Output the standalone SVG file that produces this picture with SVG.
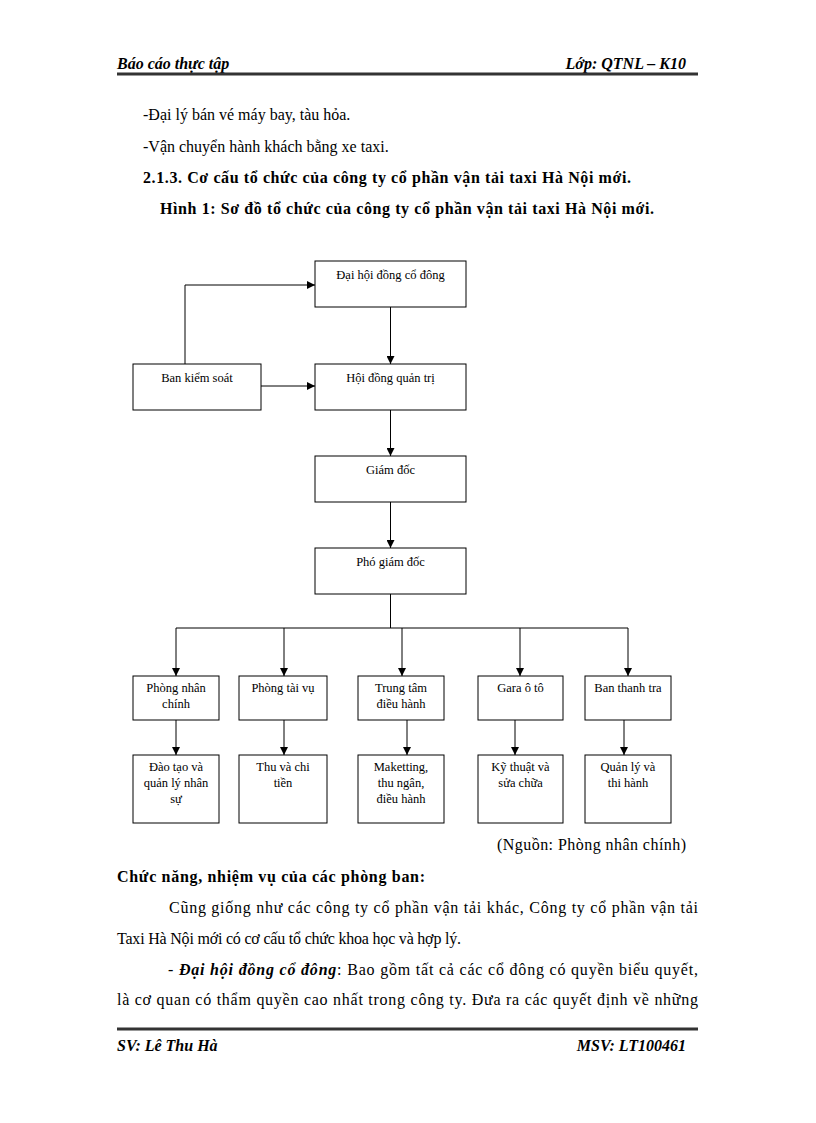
<svg xmlns="http://www.w3.org/2000/svg" width="816" height="1123" viewBox="0 0 816 1123">
<style>
text{font-family:"Liberation Serif","Times New Roman",serif;fill:#000}
.b{font-size:16px}
.bd{font-size:16px;font-weight:bold}
.hd{font-size:16px;font-weight:bold;font-style:italic}
.n{font-size:12.5px;text-anchor:middle}
.box{fill:#fff;stroke:#000;stroke-width:1}
.c{fill:none;stroke:#000;stroke-width:1}
.rule{stroke:#333;stroke-width:3}
</style>
<defs>
<marker id="ah" viewBox="0 0 10 10" refX="10" refY="5" markerWidth="8" markerHeight="8" markerUnits="userSpaceOnUse" orient="auto">
<path d="M0,0 L10,5 L0,10 z" fill="#000"/>
</marker>
</defs>
<rect width="816" height="1123" fill="#fff"/>

<g id="header">
<text class="hd" x="117" y="69">Báo cáo thực tập</text>
<text class="hd" x="686" y="69" text-anchor="end">Lớp: QTNL – K10</text>
<line class="rule" x1="117" y1="74" x2="698" y2="74"/>
</g>

<g id="body-top">
<text class="b" x="143" y="120">-Đại lý bán vé máy bay, tàu hỏa.</text>
<text class="b" x="143" y="152">-Vận chuyển hành khách bằng xe taxi.</text>
<text class="bd" x="143" y="183" textLength="488" lengthAdjust="spacing">2.1.3. Cơ cấu tổ chức của công ty cổ phần vận tải taxi Hà Nội mới.</text>
<text class="bd" x="160" y="214" textLength="494" lengthAdjust="spacing">Hình 1: Sơ đồ tổ chức của công ty cổ phần vận tải taxi Hà Nội mới.</text>
</g>

<g id="connectors">
<line class="c" x1="390.5" y1="307" x2="390.5" y2="364" marker-end="url(#ah)"/>
<polyline class="c" points="185,364 185,285 315,285" marker-end="url(#ah)"/>
<line class="c" x1="261" y1="386" x2="315" y2="386" marker-end="url(#ah)"/>
<line class="c" x1="390.5" y1="410" x2="390.5" y2="456" marker-end="url(#ah)"/>
<line class="c" x1="390.5" y1="502" x2="390.5" y2="548" marker-end="url(#ah)"/>
<line class="c" x1="390.5" y1="594" x2="390.5" y2="628"/>
<line class="c" x1="176" y1="628" x2="628" y2="628"/>
<line class="c" x1="176" y1="628" x2="176" y2="676" marker-end="url(#ah)"/>
<line class="c" x1="284" y1="628" x2="284" y2="676" marker-end="url(#ah)"/>
<line class="c" x1="402" y1="628" x2="402" y2="676" marker-end="url(#ah)"/>
<line class="c" x1="520" y1="628" x2="520" y2="676" marker-end="url(#ah)"/>
<line class="c" x1="628" y1="628" x2="628" y2="676" marker-end="url(#ah)"/>
<line class="c" x1="176" y1="720" x2="176" y2="755" marker-end="url(#ah)"/>
<line class="c" x1="284" y1="720" x2="284" y2="755" marker-end="url(#ah)"/>
<line class="c" x1="407" y1="720" x2="407" y2="755" marker-end="url(#ah)"/>
<line class="c" x1="515" y1="720" x2="515" y2="755" marker-end="url(#ah)"/>
<line class="c" x1="624" y1="720" x2="624" y2="755" marker-end="url(#ah)"/>
</g>

<g id="dhdcd">
<rect class="box" x="315" y="261" width="151" height="46"/>
<text class="n" x="390.5" y="279">Đại hội đồng cổ đông</text>
</g>
<g id="bks">
<rect class="box" x="133" y="364" width="128" height="46"/>
<text class="n" x="197" y="382">Ban kiểm soát</text>
</g>
<g id="hdqt">
<rect class="box" x="315" y="364" width="151" height="46"/>
<text class="n" x="390.5" y="382">Hội đồng quản trị</text>
</g>
<g id="gd">
<rect class="box" x="315" y="456" width="151" height="46"/>
<text class="n" x="390.5" y="474">Giám đốc</text>
</g>
<g id="pgd">
<rect class="box" x="315" y="548" width="151" height="46"/>
<text class="n" x="390.5" y="566">Phó giám đốc</text>
</g>

<g id="pnc">
<rect class="box" x="133" y="676" width="86" height="44"/>
<text class="n" x="176" y="692">Phòng nhân</text>
<text class="n" x="176" y="708">chính</text>
</g>
<g id="ptv">
<rect class="box" x="239" y="676" width="88" height="44"/>
<text class="n" x="283" y="692">Phòng tài vụ</text>
</g>
<g id="ttdh">
<rect class="box" x="358" y="676" width="86" height="44"/>
<text class="n" x="401" y="692">Trung tâm</text>
<text class="n" x="401" y="708">điều hành</text>
</g>
<g id="gara">
<rect class="box" x="478" y="676" width="85" height="44"/>
<text class="n" x="520.5" y="692">Gara ô tô</text>
</g>
<g id="btt">
<rect class="box" x="585" y="676" width="86" height="44"/>
<text class="n" x="628" y="692">Ban thanh tra</text>
</g>

<g id="dtql">
<rect class="box" x="133" y="755" width="86" height="68"/>
<text class="n" x="176" y="771">Đào tạo và</text>
<text class="n" x="176" y="787">quản lý nhân</text>
<text class="n" x="176" y="803">sự</text>
</g>
<g id="thuchi">
<rect class="box" x="239" y="755" width="88" height="68"/>
<text class="n" x="283" y="771">Thu và chi</text>
<text class="n" x="283" y="787">tiền</text>
</g>
<g id="mkt">
<rect class="box" x="358" y="755" width="86" height="68"/>
<text class="n" x="401" y="771">Maketting,</text>
<text class="n" x="401" y="787">thu ngân,</text>
<text class="n" x="401" y="803">điều hành</text>
</g>
<g id="ktsc">
<rect class="box" x="478" y="755" width="85" height="68"/>
<text class="n" x="520.5" y="771">Kỹ thuật và</text>
<text class="n" x="520.5" y="787">sửa chữa</text>
</g>
<g id="qlth">
<rect class="box" x="585" y="755" width="86" height="68"/>
<text class="n" x="628" y="771">Quản lý và</text>
<text class="n" x="628" y="787">thi hành</text>
</g>

<g id="body-bottom">
<text class="b" x="497" y="850" textLength="189" lengthAdjust="spacing">(Nguồn: Phòng nhân chính)</text>
<text class="bd" x="117" y="882" textLength="308" lengthAdjust="spacing">Chức năng, nhiệm vụ của các phòng ban:</text>
<text class="b" x="169" y="913" textLength="529" lengthAdjust="spacing">Cũng giống như các công ty cổ phần vận tải khác, Công ty cổ phần vận tải</text>
<text class="b" x="117" y="944" textLength="344" lengthAdjust="spacing">Taxi Hà Nội mới có cơ cấu tổ chức khoa học và hợp lý.</text>
<text class="b" x="168" y="975" textLength="530" lengthAdjust="spacing">- <tspan font-weight="bold" font-style="italic">Đại hội đồng cổ đông</tspan>: Bao gồm tất cả các cổ đông có quyền biểu quyết,</text>
<text class="b" x="117" y="1005" textLength="581" lengthAdjust="spacing">là cơ quan có thẩm quyền cao nhất trong công ty. Đưa ra các quyết định về những</text>
</g>

<g id="footer">
<line class="rule" x1="117" y1="1029" x2="698" y2="1029"/>
<text class="hd" x="117" y="1051">SV: Lê Thu Hà</text>
<text class="hd" x="686" y="1051" text-anchor="end">MSV: LT100461</text>
</g>
</svg>
